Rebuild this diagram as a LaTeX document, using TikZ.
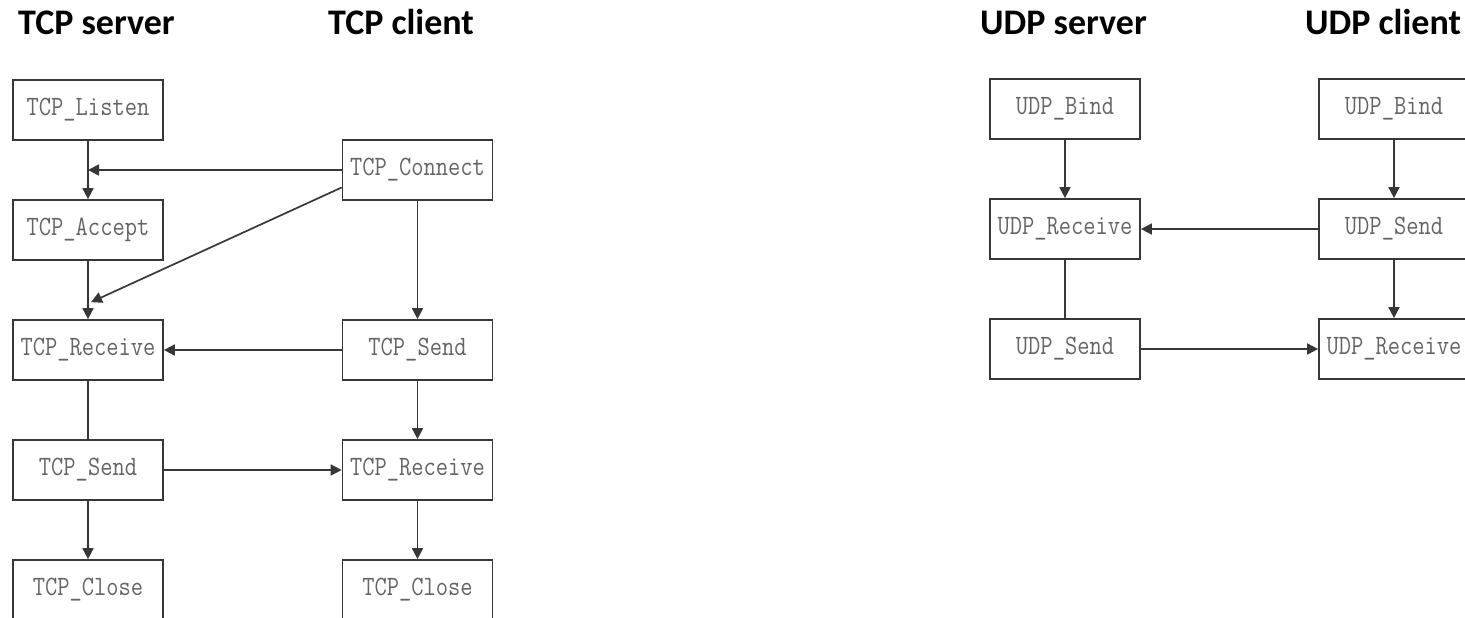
\documentclass[tikz,border=0pt]{standalone}
\usepackage{fontspec}
\usepackage{graphicx}
\newfontfamily\titlefont{Carlito}
\usetikzlibrary{arrows.meta,calc}
\definecolor{linec}{RGB}{55,55,55}
\definecolor{textc}{RGB}{100,100,100}
\newcommand{\bx}[1]{\scalebox{0.85}[1]{#1}}
\tikzset{
  box/.style={draw=linec, line width=1.7pt, minimum width=150pt, minimum height=60pt, inner sep=0pt,
    font=\ttfamily\fontsize{28}{30}\selectfont, text=textc},
  title/.style={anchor=base west, inner sep=0pt, font=\titlefont\bfseries\fontsize{36}{40}\selectfont, text=black},
  arr/.style={draw=linec, line width=1.7pt, -{Triangle[length=11pt,width=11pt]}},
  ln/.style={draw=linec, line width=1.7pt},
}
\begin{document}
\begin{tikzpicture}[x=1pt,y=-1pt]
\useasboundingbox (0,0) rectangle (1465,618);
% titles
\node[title] (t1) at (18,35) {TCP server};
\node[title] (t2) at (328,35) {TCP client};
\node[title] (t3) at (980,35) {UDP server};
\node[title] (t4) at (1305,35) {UDP client};
% TCP server
\node[box] (slis) at (88,110) {\bx{TCP\_Listen}};
\node[box] (sacc) at (88,230) {\bx{TCP\_Accept}};
\node[box] (srec) at (88,350) {\bx{TCP\_Receive}};
\node[box] (ssnd) at (88,470) {\bx{TCP\_Send}};
\node[box] (scls) at (88,590) {\bx{TCP\_Close}};
% TCP client
\node[box] (ccon) at (417.5,170) {\bx{TCP\_Connect}};
\node[box] (csnd) at (417.5,350) {\bx{TCP\_Send}};
\node[box] (crec) at (417.5,470) {\bx{TCP\_Receive}};
\node[box] (ccls) at (417.5,590) {\bx{TCP\_Close}};
% UDP server
\node[box] (ubind) at (1065,109) {\bx{UDP\_Bind}};
\node[box] (urec) at (1065,229) {\bx{UDP\_Receive}};
\node[box] (usnd) at (1065,349) {\bx{UDP\_Send}};
% UDP client
\node[box] (vbind) at (1394,109) {\bx{UDP\_Bind}};
\node[box] (vsnd) at (1394,229) {\bx{UDP\_Send}};
\node[box] (vrec) at (1394,349) {\bx{UDP\_Receive}};
% TCP connectors
\draw[arr] (slis) -- (sacc);
\draw[arr] (ccon.west) -- (ccon.west -| slis.south);
\coordinate (diagend) at ($(srec.north)+(3,-17)$);
\draw[arr] (ccon.193) -- (diagend);
\draw[arr] (sacc) -- (srec);
\draw[arr] (ccon) -- (csnd);
\draw[arr] (csnd) -- (srec);
\draw[ln] (srec) -- (ssnd);
\draw[arr] (ssnd) -- (crec);
\draw[arr] (ssnd) -- (scls);
\draw[arr] (csnd) -- (crec);
\draw[arr] (crec) -- (ccls);
% UDP connectors
\draw[arr] (ubind) -- (urec);
\draw[arr] (vsnd) -- (urec);
\draw[ln] (urec) -- (usnd);
\draw[arr] (vbind) -- (vsnd);
\draw[arr] (vsnd) -- (vrec);
\draw[arr] (usnd) -- (vrec);
\end{tikzpicture}
\end{document}
